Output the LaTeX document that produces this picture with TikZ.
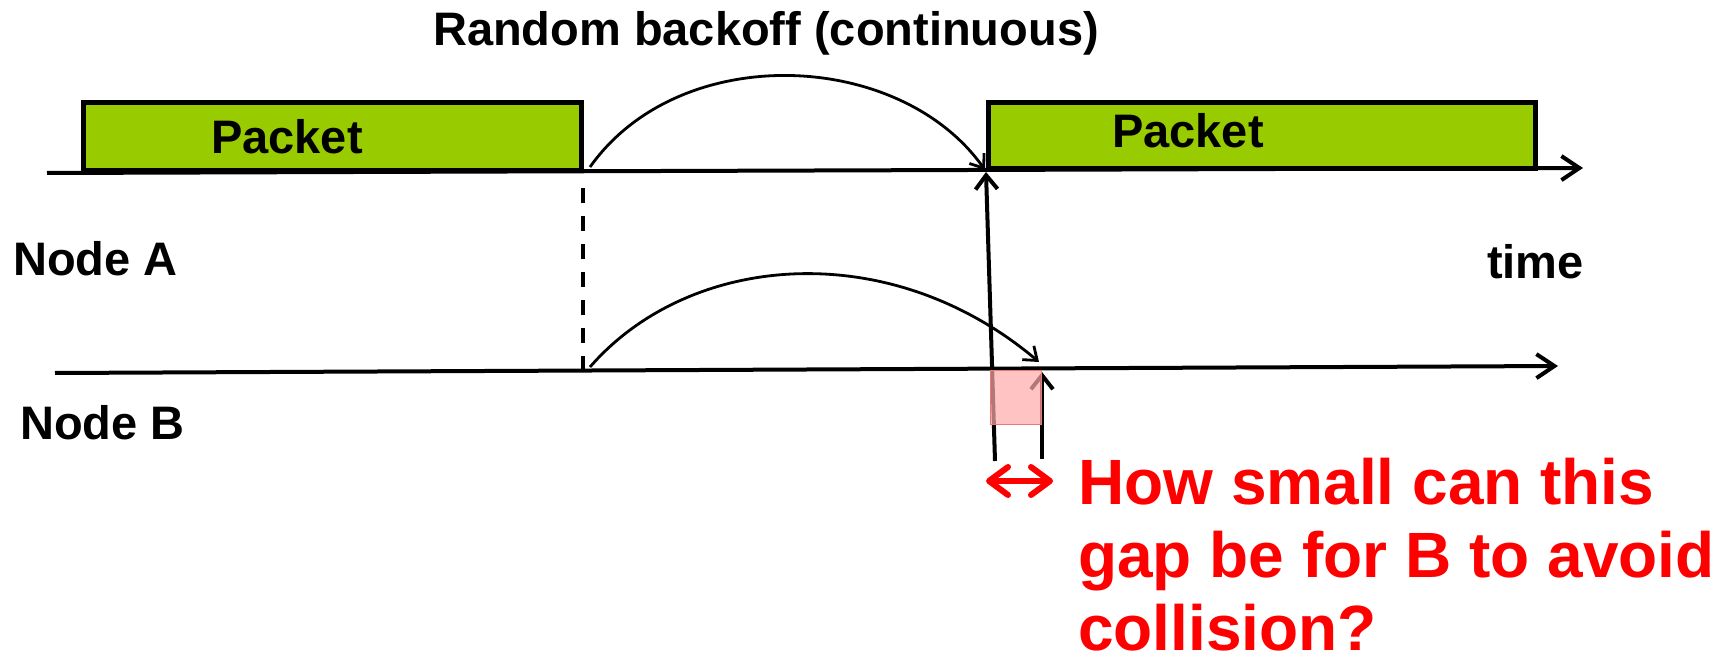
\documentclass[tikz,border=0pt]{standalone}
\usepackage{fontspec}
\setmainfont{Liberation Sans}
\usetikzlibrary{arrows.meta}
\definecolor{pktgreen}{RGB}{153,204,0}
\definecolor{gappink}{RGB}{255,170,170}
\definecolor{gapedge}{RGB}{235,120,120}
\begin{document}
\begin{tikzpicture}[x=1pt,y=-1pt,
  axisline/.style={line width=4pt,-{Straight Barb[length=18pt,width=24pt,line width=4pt]}},
  arcline/.style={line width=2.8pt,-{Straight Barb[length=12pt,width=18pt,line width=2.8pt]}},
  upline/.style={line width=4pt,-{Straight Barb[length=14pt,width=22pt,line width=4pt]}},
  pktbox/.style={draw,line width=5pt,fill=pktgreen,inner sep=0pt},
  blacktext/.style={font=\fontsize{47}{56}\selectfont\bfseries,inner sep=0pt},
  redtext/.style={font=\fontsize{64}{73}\selectfont\bfseries,text=red,inner sep=0pt,align=left},
  gapline/.style={line width=6pt,red,line cap=round,line join=round,
    {Straight Barb[length=19pt,width=28pt,line width=6pt,round]}-{Straight Barb[length=19pt,width=28pt,line width=6pt,round]}}
]
\useasboundingbox (0,0) rectangle (1729,660);

% coordinates on the time axes
\coordinate (a0) at (47,173);
\coordinate (a1) at (1583,168);
\coordinate (b0) at (55,373);
\coordinate (b1) at (1558,366);
\coordinate (arcAs) at (590,167);
\coordinate (arcAe) at (985,170);
\coordinate (arcBs) at (590,367);
\coordinate (arcBe) at (1039,362);
\coordinate (dashtop) at (583,188);
\coordinate (dashbot) at (583,369);
\coordinate (v1bot) at (995,461);
\coordinate (v1top) at (986,172);
\coordinate (v2bot) at (1042,459);
\coordinate (v2top) at (1042,372);
\coordinate (gl) at (986,481);
\coordinate (gr) at (1053,481);

% axes
\draw[axisline] (a0) -- (a1);
\draw[axisline] (b0) -- (b1);

% packets
\node[pktbox,minimum width=498pt,minimum height=68pt] (p1) at (332,137) {};
\node[pktbox,minimum width=547pt,minimum height=66pt] (p2) at (1262,136) {};
\node[blacktext,anchor=base] (p1t) at (287,154) {Packet};
\node[blacktext,anchor=base] (p2t) at (1188,148) {Packet};

% dashed line
\draw[line width=4.5pt,dash pattern=on 15pt off 13pt] (dashtop) -- (dashbot);

% backoff arcs
\draw[arcline] (arcAs) .. controls (680,40) and (900,50) .. (arcAe);
\draw[arcline] (arcBs) .. controls (690,252) and (890,236) .. (arcBe);

% vertical markers
\draw[upline] (v1bot) -- (v1top);
\draw[upline] (v2bot) -- (v2top);

% gap highlight
\fill[gappink,opacity=0.7] (990,370) rectangle (1041,424);
\draw[gapedge,line width=1pt] (990,370) rectangle (1041,424);

% gap arrow
\draw[gapline] (gl) -- (gr);

% labels
\node[blacktext,anchor=base] (title) at (766,46) {Random backoff (continuous)};
\node[blacktext,anchor=base west] (nodeA) at (13,276) {Node A};
\node[blacktext,anchor=base west] (nodeB) at (20,439) {Node B};
\node[blacktext,anchor=base west] (time) at (1487,279) {time};
\node[redtext,anchor=north west] (question) at (1078,458) {How small can this\\gap be for B to avoid\\collision?};
\end{tikzpicture}
\end{document}
